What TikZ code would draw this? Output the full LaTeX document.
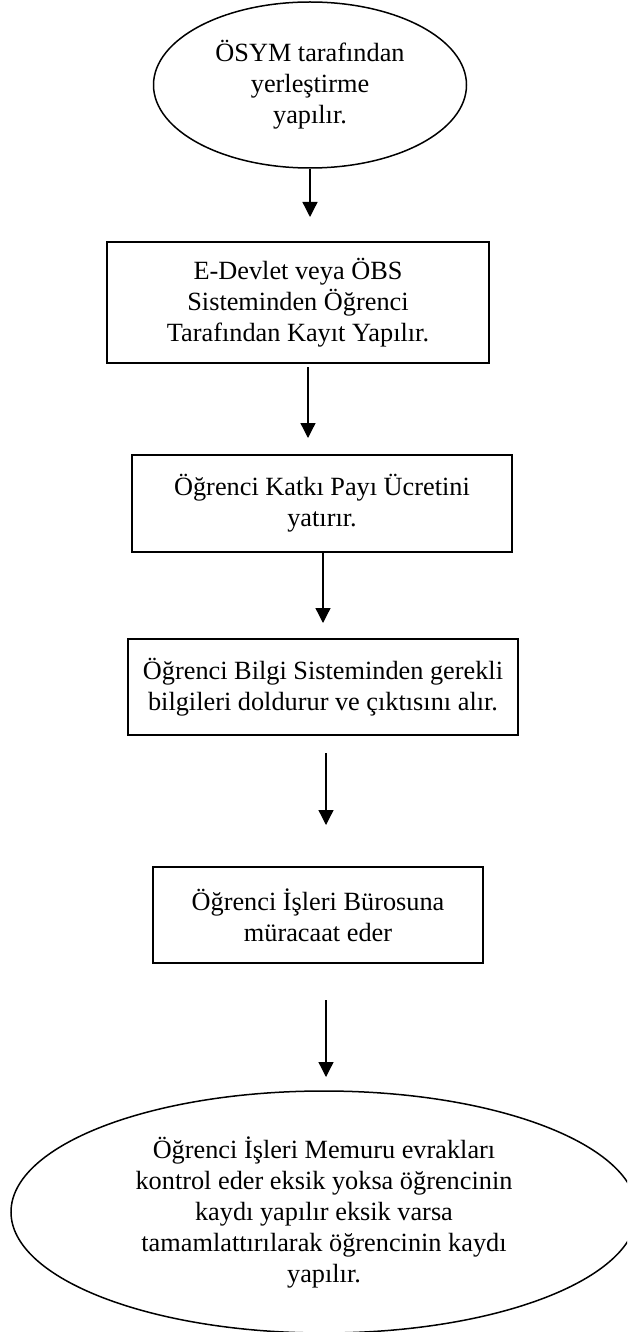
\documentclass[tikz,border=0pt]{standalone}
\usepackage{fontspec}
\setmainfont{Liberation Serif}
\usetikzlibrary{arrows.meta,shapes.geometric}
\begin{document}
\begin{tikzpicture}[x=1pt,y=-1pt,
  txt/.style={align=center,font=\fontsize{26.3}{31}\selectfont,inner sep=0pt},
  stepbox/.style={txt,draw,line width=1.5pt,rectangle},
  oval/.style={txt,draw,line width=1.5pt,ellipse},
  arr/.style={line width=1.3pt,-{Triangle[width=15pt,length=15pt]}}]
\useasboundingbox (0,0) rectangle (627,1332);
\clip (0,0) rectangle (627,1332);
\fill[white] (0,0) rectangle (627,1332);

% process steps
\node[oval,minimum width=313,minimum height=166] (e1) at (310,85)
  {ÖSYM tarafından\\yerleştirme\\yapılır.};
\node[stepbox,minimum width=382,minimum height=121] (b1) at (298,302.5)
  {E-Devlet veya ÖBS\\Sisteminden Öğrenci\\Tarafından Kayıt Yapılır.};
\node[stepbox,minimum width=380,minimum height=97] (b2) at (322,503.5)
  {Öğrenci Katkı Payı Ücretini\\yatırır.};
\node[stepbox,minimum width=390,minimum height=96] (b3) at (323,687)
  {Öğrenci Bilgi Sisteminden gerekli\\bilgileri doldurur ve çıktısını alır.};
\node[stepbox,minimum width=330,minimum height=96] (b4) at (318,915)
  {Öğrenci İşleri Bürosuna\\müracaat eder};
\node[oval,minimum width=626,minimum height=242] (e2) at (324,1212)
  {Öğrenci İşleri Memuru evrakları\\kontrol eder eksik yoksa öğrencinin\\kaydı yapılır eksik varsa\\tamamlattırılarak öğrencinin kaydı\\yapılır.};

% arrow ends
\coordinate (t1) at (310,217);
\coordinate (s2) at (308,367);  \coordinate (t2) at (308,438);
\coordinate (s3) at (323,552);  \coordinate (t3) at (323,623);
\coordinate (s4) at (326,753);  \coordinate (t4) at (326,825);
\coordinate (s5) at (326,1000); \coordinate (t5) at (326,1077);

\draw[arr] (e1.south) -- (t1);
\draw[arr] (s2) -- (t2);
\draw[arr] (s3) -- (t3);
\draw[arr] (s4) -- (t4);
\draw[arr] (s5) -- (t5);
\end{tikzpicture}
\end{document}
